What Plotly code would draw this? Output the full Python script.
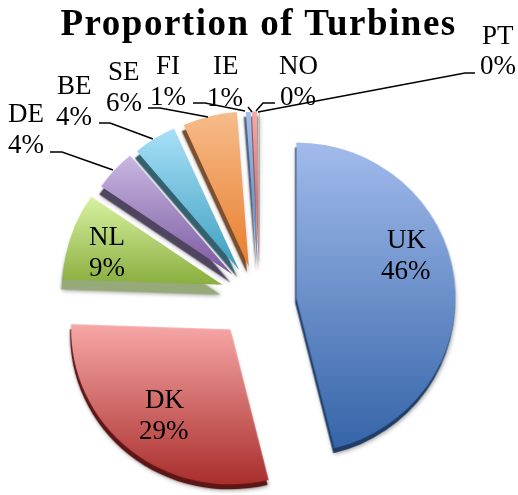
import json
import plotly.graph_objects as go

# Share of offshore turbines per country, clockwise from 12 o'clock
countries = ["UK", "DK", "NL", "DE", "BE", "SE", "FI", "IE", "NO", "PT"]
shares = [46.2, 29.4, 9.1, 4.3, 4.4, 5.5, 0.5, 0.5, 0.1, 0.1]
percent_labels = ["46%", "29%", "9%", "4%", "4%", "6%", "1%", "1%", "0%", "0%"]

top_colors = ["#A2BBEC", "#F7A8A7", "#D8F2A2", "#C9B7E1", "#A8E0F8", "#F6BC8A",
              "#A8C0EC", "#F4AAA8", "#D8ECB0", "#C9B7E1"]
bottom_colors = ["#3565A8", "#A92E2C", "#8AAE3E", "#7A58A0", "#3C9EBE", "#E97E2E",
                 "#4A7EBE", "#C05050", "#90B050", "#7A58A0"]
side_colors = ["#1F3D66", "#5C1616", "#95AA78", "#4F4560", "#35606F", "#7A5030",
               "#55657F", "#8A6060", "#8A9A70", "#5A5070"]

W, H = 518, 495
PULL = 0.235
FONT = "Liberation Serif"
LINE_GAP = 31

# Extra per-slice displacement on top of the pull, for faces and sides
face_nudge = [[-1, -1], [-6, -2], [-2, -7], [0, -4], [-1, -2], [-2, -1], [0, 0], [0, 0], [0, 0], [0, 0]]
side_nudge = [[-1, -1], [-6, -2], [-3, -2], [-1, -1], [-2, 0], [-3, 0], [-1, 0], [-1, 0], [0, 0], [0, 0]]


def px(x):
    return x / W


def py(y):
    return 1 - y / H


# Label block centres, in page pixels
label_centres = {
    "UK": (406, 254), "DK": (164, 414), "NL": (107, 251), "DE": (26, 128),
    "BE": (74, 100), "SE": (124, 86), "FI": (168, 80), "IE": (225, 81),
    "NO": (298, 80), "PT": (498, 50),
}

# Leader lines from the outer labels to their slices
leaders = [
    [(50, 152), (62, 152), (113, 170)],
    [(99, 123), (110, 123), (153, 139)],
    [(148, 108), (160, 108), (208, 117)],
    [(193, 103), (205, 103), (245, 111)],
    [(248, 107), (252, 112)],
    [(275, 103), (263, 103), (256, 111)],
    [(475, 73), (465, 73), (258, 112)],
]

pie_domain = dict(x=[px(64), px(454)], y=[0, py(106)])
common = dict(
    labels=countries,
    values=shares,
    sort=False,
    direction="clockwise",
    rotation=0,
    pull=PULL,
    textinfo="none",
    hoverinfo="label+percent",
    domain=pie_domain,
    showlegend=False,
)

fig = go.Figure()
# Lower copy forms the slice sides, the upper one the lit faces
fig.add_trace(go.Pie(marker=dict(colors=side_colors, line=dict(width=0)), **common))
fig.add_trace(go.Pie(marker=dict(colors=top_colors, line=dict(width=0)), **common))

annotations = [
    dict(text="<b>Proportion of Turbines</b>", x=px(258), y=py(22.5), xref="paper", yref="paper",
         showarrow=False, xanchor="center", yanchor="middle",
         font=dict(family=FONT, size=37, color="black"))
]
for name, pct in zip(countries, percent_labels):
    cx, cy = label_centres[name]
    for line, ly in ((name, cy - LINE_GAP / 2), (pct, cy + LINE_GAP / 2)):
        annotations.append(dict(
            text=line, x=px(cx), y=py(ly), xref="paper", yref="paper",
            showarrow=False, xanchor="center", yanchor="middle",
            font=dict(family=FONT, size=27, color="black"),
        ))

shapes = []
for pts in leaders:
    path = "M " + " L ".join(f"{px(x):.5f},{py(y):.5f}" for x, y in pts)
    shapes.append(dict(type="path", path=path, xref="paper", yref="paper",
                       line=dict(color="black", width=1.5)))

fig.update_layout(
    width=W, height=H,
    margin=dict(l=0, r=0, t=0, b=0),
    paper_bgcolor="white",
    annotations=annotations,
    shapes=shapes,
)

# Vertical light-to-dark gradient on each face; a slight squash gives the tilt,
# and the side layer sits a few pixels below the faces
post_script = """
var gd = document.getElementById('{plot_id}');
var tops = %s, bottoms = %s, faceNudge = %s, sideNudge = %s;
var NS = 'http://www.w3.org/2000/svg';
var svg = gd.querySelector('.main-svg');
var defs = document.createElementNS(NS, 'defs');
tops.forEach(function (c, i) {
  var g = document.createElementNS(NS, 'linearGradient');
  g.setAttribute('id', 'face' + i);
  g.setAttribute('x1', '0'); g.setAttribute('y1', '0');
  g.setAttribute('x2', '0'); g.setAttribute('y2', '1');
  [[0, c], [1, bottoms[i]]].forEach(function (s) {
    var st = document.createElementNS(NS, 'stop');
    st.setAttribute('offset', s[0]);
    st.setAttribute('stop-color', s[1]);
    g.appendChild(st);
  });
  defs.appendChild(g);
});
svg.insertBefore(defs, svg.firstChild);
var tilt = 'scale(1.012,0.985) translate(-259,-300.5)';
var layers = gd.querySelectorAll('.pielayer .trace');
layers[0].setAttribute('transform', 'translate(259,308) ' + tilt);
layers[0].style.filter = 'drop-shadow(1px 1px 2px rgba(0,0,0,0.4))';
layers[1].setAttribute('transform', 'translate(260,303) ' + tilt);
layers[0].querySelectorAll('.slice').forEach(function (s, i) {
  s.setAttribute('transform', 'translate(' + sideNudge[i].join(',') + ')');
});
layers[1].querySelectorAll('.slice').forEach(function (s, i) {
  s.setAttribute('transform', 'translate(' + faceNudge[i].join(',') + ')');
  s.querySelector('path.surface').style.fill = 'url(#face' + i + ')';
});
// Open up the title's letter spacing
gd.querySelectorAll('.annotation-text').forEach(function (t) {
  if (t.textContent.indexOf('Proportion') === 0) { t.style.letterSpacing = '1.5px'; }
});
""" % (json.dumps(top_colors), json.dumps(bottom_colors), json.dumps(face_nudge), json.dumps(side_nudge))

fig.write_html("out.html", post_script=post_script, config=dict(displayModeBar=False))
